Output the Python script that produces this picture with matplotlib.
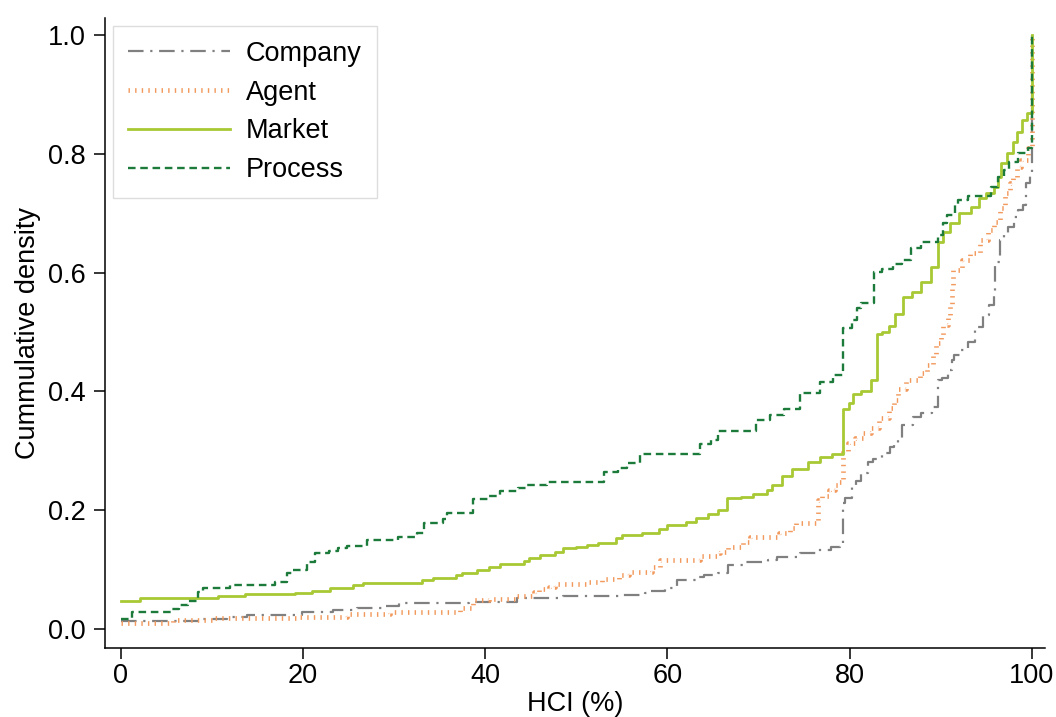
import matplotlib

matplotlib.use("Agg")
import matplotlib.pyplot as plt

plt.rcParams["font.family"] = ["Liberation Sans", "DejaVu Sans"]

# Step points of each empirical CDF: value jumps to y at x
company_x = [0, 9.0, 11.6, 13.8, 19.9, 23.3, 25.9, 29.0, 30.5, 38.2, 43.5, 48.5,
             55.0, 57.5, 58.1, 59.7, 61.1, 63.1, 64.0, 65.5, 66.6, 68.6, 71.0,
             72.0, 74.6, 76.5, 78.0, 78.9, 79.3, 79.5, 80.3, 80.7, 81.3, 82.0,
             82.6, 83.6, 84.4, 84.9, 85.3, 85.8, 87.0, 87.8, 89.0, 89.7, 90.1,
             90.8, 91.2, 91.5, 92.2, 93.0, 93.8, 94.6, 95.3, 95.8, 96.0, 96.5,
             96.9, 97.4, 98.0, 98.5, 99.0, 99.4, 99.8, 100]
company_y = [0.013, 0.017, 0.020, 0.024, 0.029, 0.032, 0.035, 0.039, 0.044, 0.046,
             0.052, 0.056, 0.057, 0.061, 0.064, 0.069, 0.083, 0.088, 0.091, 0.094,
             0.108, 0.112, 0.117, 0.121, 0.128, 0.133, 0.138, 0.145, 0.212, 0.220,
             0.239, 0.250, 0.262, 0.281, 0.287, 0.296, 0.306, 0.313, 0.321, 0.343,
             0.357, 0.364, 0.374, 0.419, 0.422, 0.436, 0.453, 0.461, 0.470, 0.483,
             0.508, 0.529, 0.545, 0.566, 0.618, 0.655, 0.667, 0.677, 0.694, 0.705,
             0.714, 0.751, 0.768, 1.0]

agent_x = [0, 5.7, 10.0, 19.7, 24.8, 29.5, 37.2, 38.7, 40.4, 43.3, 45.3, 45.9,
           47.0, 47.7, 51.4, 52.8, 54.7, 55.8, 58.3, 59.2, 63.6, 65.5, 65.8, 66.7,
           68.3, 69.1, 72.3, 73.4, 74.1, 76.5, 77.0, 77.7, 78.4, 78.8, 79.3, 79.8,
           80.6, 81.5, 82.3, 83.2, 84.3, 84.9, 85.3, 86.2, 87.7, 88.5, 89.1, 89.5,
           90.0, 90.3, 90.8, 91.0, 91.2, 91.4, 92.3, 93.2, 94.3, 95.2, 95.8, 96.5,
           97.1, 97.6, 97.9, 98.4, 98.8, 99.6, 100]
agent_y = [0.010, 0.015, 0.018, 0.020, 0.026, 0.029, 0.035, 0.049, 0.050, 0.056,
           0.062, 0.067, 0.071, 0.075, 0.079, 0.085, 0.091, 0.096, 0.104, 0.116,
           0.123, 0.128, 0.130, 0.138, 0.146, 0.155, 0.162, 0.170, 0.178, 0.217,
           0.224, 0.234, 0.242, 0.248, 0.298, 0.313, 0.321, 0.330, 0.338, 0.355,
           0.372, 0.386, 0.404, 0.419, 0.431, 0.444, 0.461, 0.481, 0.495, 0.512,
           0.529, 0.545, 0.574, 0.604, 0.621, 0.633, 0.655, 0.672, 0.685, 0.709,
           0.734, 0.751, 0.761, 0.778, 0.790, 0.810, 1.0]

market_x = [0, 2.1, 10.7, 13.6, 19.1, 21.0, 22.9, 25.5, 26.6, 33.1, 34.3, 36.8,
            37.4, 39.1, 40.4, 41.6, 44.3, 44.8, 46.0, 47.7, 48.5, 50.0, 51.2, 52.4,
            54.3, 55.0, 57.2, 59.1, 60.0, 62.0, 63.1, 64.4, 65.6, 66.5, 68.1, 69.4,
            70.9, 71.5, 72.6, 73.7, 75.4, 76.8, 78.1, 79.3, 79.9, 80.4, 81.2, 82.3,
            83.0, 83.6, 84.3, 85.0, 85.9, 86.9, 87.8, 88.9, 89.7, 90.3, 91.0, 92.0,
            93.3, 94.2, 95.0, 95.8, 96.3, 96.6, 97.3, 97.9, 98.4, 98.9, 99.5, 100]
market_y = [0.047, 0.052, 0.056, 0.059, 0.061, 0.064, 0.069, 0.074, 0.077, 0.082,
            0.086, 0.091, 0.094, 0.100, 0.105, 0.109, 0.115, 0.120, 0.124, 0.130,
            0.136, 0.138, 0.141, 0.144, 0.153, 0.158, 0.162, 0.168, 0.175, 0.180,
            0.187, 0.194, 0.200, 0.220, 0.222, 0.227, 0.234, 0.242, 0.258, 0.269,
            0.281, 0.290, 0.295, 0.370, 0.380, 0.396, 0.401, 0.419, 0.497, 0.500,
            0.510, 0.530, 0.559, 0.567, 0.584, 0.609, 0.652, 0.668, 0.683, 0.700,
            0.710, 0.725, 0.734, 0.744, 0.761, 0.785, 0.801, 0.820, 0.837, 0.857,
            0.869, 1.0]

process_x = [0, 1.2, 5.5, 6.4, 7.4, 8.5, 9.0, 12.0, 16.9, 18.2, 18.8, 20.4, 21.3,
             22.8, 23.8, 24.8, 27.0, 30.4, 32.5, 33.3, 35.4, 35.8, 38.6, 40.3,
             41.6, 43.6, 44.6, 46.8, 53.0, 54.6, 55.6, 57.0, 63.6, 64.8, 65.6,
             69.7, 71.3, 72.8, 74.6, 76.8, 78.2, 79.3, 80.3, 80.8, 81.2, 82.7,
             83.6, 84.8, 85.8, 86.7, 87.8, 89.7, 90.2, 90.7, 91.6, 91.9, 93.0,
             95.5, 96.3, 96.9, 97.5, 98.5, 99.6, 100]
process_y = [0.017, 0.029, 0.034, 0.040, 0.047, 0.062, 0.069, 0.074, 0.079, 0.094,
             0.099, 0.113, 0.128, 0.131, 0.136, 0.140, 0.150, 0.155, 0.162, 0.178,
             0.185, 0.195, 0.219, 0.224, 0.232, 0.237, 0.242, 0.248, 0.264, 0.271,
             0.279, 0.295, 0.312, 0.318, 0.333, 0.352, 0.360, 0.370, 0.397, 0.416,
             0.428, 0.507, 0.520, 0.540, 0.549, 0.601, 0.606, 0.614, 0.621, 0.641,
             0.652, 0.663, 0.683, 0.697, 0.714, 0.722, 0.729, 0.744, 0.761, 0.773,
             0.786, 0.801, 0.810, 1.0]

fig = plt.figure(figsize=(10.56, 7.17), dpi=100)
ax = fig.add_axes([0.0994, 0.0962, 0.8906, 0.879])

ax.step(company_x, company_y, where="post", color="#808080", lw=1.6,
        dashes=(7, 3, 1, 3), label="Company")
ax.step(agent_x, agent_y, where="post", color="#F29A5E", lw=3.4,
        dashes=(0.3, 1.1), label="Agent")
ax.step(market_x, market_y, where="post", color="#A8C934", lw=2.0,
        label="Market")
ax.step(process_x, process_y, where="post", color="#1C7A3A", lw=1.7,
        dashes=(3.2, 2.0), label="Process")

ax.set_xlim(-1.76, 101.5)
ax.set_ylim(-0.032, 1.029)
ax.set_xticks([0, 20, 40, 60, 80, 100])
ax.set_yticks([0.0, 0.2, 0.4, 0.6, 0.8, 1.0])
ax.set_yticklabels(["0.0", "0.2", "0.4", "0.6", "0.8", "1.0"])

for side in ["top", "right"]:
    ax.spines[side].set_visible(False)
for side in ["left", "bottom"]:
    ax.spines[side].set_linewidth(1.1)
ax.tick_params(axis="both", direction="out", length=8, width=1.1,
               labelsize=19.5)
ax.tick_params(axis="y", pad=6)
ax.tick_params(axis="x", pad=3)

ax.set_xlabel("HCI (%)", fontsize=19.5, labelpad=1)
ax.set_ylabel("Cummulative density", fontsize=19.5, labelpad=5)

leg = ax.legend(loc="upper left", fontsize=19.5, frameon=True, fancybox=False,
                edgecolor="#dddddd", framealpha=1, handlelength=3.75,
                handletextpad=0.6, labelspacing=0.47, borderaxespad=0.3,
                borderpad=0.55)
leg.get_frame().set_linewidth(1.0)

fig.savefig("out.png", dpi=100)
